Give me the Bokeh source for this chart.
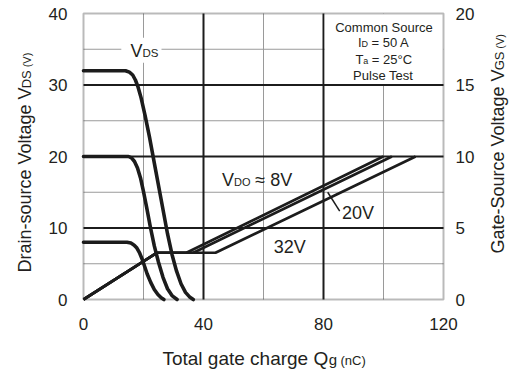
from bokeh.plotting import figure
from bokeh.models import Range1d, LinearAxis, FixedTicker, BoxAnnotation, Label
from bokeh.embed import file_html
from bokeh.resources import INLINE

# ---------------- data ----------------
x_ticks = [0, 40, 80, 120]
x_major = [40, 80]
x_minor = [20, 60, 100]
vds_ticks = [0, 10, 20, 30, 40]
vds_major = [10, 20, 30]
vds_minor = [5, 15, 25, 35]
vgs_ticks = [0, 5, 10, 15, 20]
X_MIN, X_MAX = 0, 120
VDS_MIN, VDS_MAX = 0, 40

qg_vds_8 = [0, 14.5, 15.8, 16.9, 17.8, 18.6, 19.6, 21.2, 22.4, 23.6, 24.8, 25.9, 26.8]
vds_8 = [8, 8, 7.9, 7.6, 7.2, 6.6, 5.6, 3.6, 2.4, 1.4, 0.7, 0.25, 0.0]

qg_vds_20 = [0, 15, 16, 17, 18, 19, 20, 21, 22.3, 23.6, 25, 26.5, 28, 29.6, 31.2]
vds_20 = [20, 20, 19.8, 19.3, 18.4, 17, 15.1, 13, 10.1, 7.5, 5.2, 3.1, 1.5, 0.5, 0]

qg_vds_32 = [0, 14, 15.3, 16.4, 17.3, 18.2, 19.2, 20.5, 22, 24, 26, 28, 29.5, 31, 32.5, 34, 35.5, 36.6]
vds_32 = [32, 32, 31.8, 31.4, 30.7, 29.7, 28.2, 25.8, 22.7, 18.2, 13.7, 9.2, 6.3, 4.0, 2.2, 1.0, 0.3, 0]

qg_vgs_8 = [0, 24.5, 34.3, 99.9]
vgs_8 = [0, 3.27, 3.27, 10]
qg_vgs_20 = [0, 24.5, 36.6, 102.8]
vgs_20 = [0, 3.27, 3.27, 10]
qg_vgs_32 = [0, 24.5, 44.0, 110.7]
vgs_32 = [0, 3.27, 3.27, 10]

# ---------------- style ----------------
INK = "#1c1c1c"
TXT = "#231f20"
GRAY = "#9a9a9a"
FONT = "Liberation Sans"
BASE_K = 0.32   # baseline correction (fraction of font size)
WIDTH_K = 0.99  # rendered advance vs. nominal metrics

W = {' ': .278, '(': .333, ')': .333, '-': .333, '=': .584, '≈': .584, '°': .4,
     'A': .667, 'C': .722, 'D': .722, 'G': .778, 'I': .278, 'O': .778, 'P': .667,
     'Q': .778, 'S': .667, 'T': .611, 'V': .667, 'a': .556, 'c': .5, 'e': .556,
     'g': .556, 'h': .556, 'i': .222, 'l': .222, 'm': .833, 'n': .556, 'o': .556,
     'r': .333, 's': .5, 't': .278, 'u': .556}
for d in "0123456789":
    W[d] = .556


def text_w(t, s):
    return sum(W.get(c, .556) for c in t) * s * WIDTH_K


# whole figure is the frame; the plot box sits inside it (3 px per nC, 7.15 px per V)
FIG_W, FIG_H = 512, 372
PX0, PY0 = 83, 299          # screen position of (0, 0)
SX, SY = 3.0, 7.15
xr = Range1d(-PX0 / SX, (FIG_W - PX0) / SX)
yr = Range1d(-(FIG_H - PY0) / SY, PY0 / SY)

p = figure(width=FIG_W, height=FIG_H, x_range=xr, y_range=yr,
           output_backend="svg", toolbar_location=None, min_border=0,
           background_fill_color="white", border_fill_color="white")
p.outline_line_color = None
p.extra_y_ranges = {"vgs": Range1d(yr.start / 2, yr.end / 2)}
p.xgrid.visible = False
p.ygrid.visible = False


def style_axis(ax, standoff):
    ax.axis_line_color = None
    ax.major_tick_line_color = None
    ax.minor_tick_line_color = None
    ax.major_tick_out = 0
    ax.major_tick_in = 0
    ax.major_label_standoff = standoff
    ax.major_label_text_font = FONT
    ax.major_label_text_font_size = "17px"
    ax.major_label_text_color = TXT


p.xaxis.ticker = FixedTicker(ticks=x_ticks)
p.xaxis.fixed_location = VDS_MIN
style_axis(p.xaxis[0], 18)
p.yaxis.ticker = FixedTicker(ticks=vds_ticks)
p.yaxis.fixed_location = X_MIN
style_axis(p.yaxis[0], 16)
ax_r = LinearAxis(y_range_name="vgs", ticker=FixedTicker(ticks=vgs_ticks), fixed_location=X_MAX)
style_axis(ax_r, 12)
p.add_layout(ax_r, "right")

# grid lines inside the plot box
p.segment(x0=x_minor, y0=[VDS_MIN] * len(x_minor), x1=x_minor, y1=[VDS_MAX] * len(x_minor),
          line_color=GRAY, line_width=1)
p.segment(x0=[X_MIN] * len(vds_minor), y0=vds_minor, x1=[X_MAX] * len(vds_minor), y1=vds_minor,
          line_color=GRAY, line_width=1)
p.segment(x0=x_major, y0=[VDS_MIN] * len(x_major), x1=x_major, y1=[VDS_MAX] * len(x_major),
          line_color=INK, line_width=2)
p.segment(x0=[X_MIN] * len(vds_major), y0=vds_major, x1=[X_MAX] * len(vds_major), y1=vds_major,
          line_color=INK, line_width=2)

# curves
for q, v in ((qg_vds_8, vds_8), (qg_vds_20, vds_20), (qg_vds_32, vds_32)):
    p.line(q, v, line_color=INK, line_width=3.6, line_join="round", line_cap="round")
for q, v in ((qg_vgs_32, vgs_32), (qg_vgs_20, vgs_20), (qg_vgs_8, vgs_8)):
    p.line(q, v, line_color=INK, line_width=2.7, line_join="round", line_cap="butt",
           y_range_name="vgs")

# leader line for 20V
p.line([81.4, 85.4], [15.0, 12.35], line_color=INK, line_width=1.5)

# white box behind the condition text (inset so the major grid stays visible)
p.add_layout(BoxAnnotation(left=80.4, right=X_MAX, bottom=30.15, top=VDS_MAX,
                           fill_color="white", fill_alpha=1, line_color=None))
# white patch behind the V_DS label
p.add_layout(BoxAnnotation(left=12.6, right=26, bottom=33.1, top=36.6,
                           fill_color="white", fill_alpha=1, line_color=None))
# plot box border
p.add_layout(BoxAnnotation(left=X_MIN, right=X_MAX, bottom=VDS_MIN, top=VDS_MAX,
                           fill_alpha=0, line_color=INK, line_width=2))


def rich(x, y, parts, angle=0.0, align="left"):
    total = sum(text_w(t, s) for t, s in parts)
    off = 0 if align == "left" else -total / 2
    for t, s in parts:
        lead = len(t) - len(t.lstrip(" "))
        off += text_w(" " * lead, s)
        t2 = t.lstrip(" ")
        fix = BASE_K * s
        xo, yo = (off, fix) if angle == 0 else (-fix, off)
        p.add_layout(Label(x=x, y=y, x_offset=xo, y_offset=yo, text=t2,
                           text_font=FONT, text_font_size=f"{s}px",
                           text_color=TXT, angle=angle,
                           text_align="left", text_baseline="alphabetic"))
        off += text_w(t2, s)


rich(15.7, 33.9, [("V", 18), ("DS", 11.5)])
rich(46.2, 15.9, [("V", 18), ("DO", 11), (" ≈ 8V", 18)])
rich(86.2, 11.3, [("20V", 18)])
rich(63.4, 6.6, [("32V", 18)])

# conditions box
rich(100, 37.4, [("Common Source", 13)], align="center")
rich(100, 35.3, [("I", 13), ("D", 9), (" = 50 A", 13)], align="center")
rich(100, 32.95, [("T", 13), ("a", 9), (" = 25°C", 13)], align="center")
rich(100, 30.7, [("Pulse Test", 13)], align="center")

# axis titles
rich(26.3, -9.09, [("Total gate charge Q", 19), ("g", 15), (" (nC)", 13)])
rich(-17.67, 3.78, [("Drain-source Voltage V", 18), ("DS", 13), (" (V)", 11)], angle=1.5707963)
rich(140.0, 6.43, [("Gate-Source Voltage V", 18), ("GS", 13), (" (V)", 11)], angle=1.5707963)

open("out.html", "w").write(file_html(p, INLINE))
